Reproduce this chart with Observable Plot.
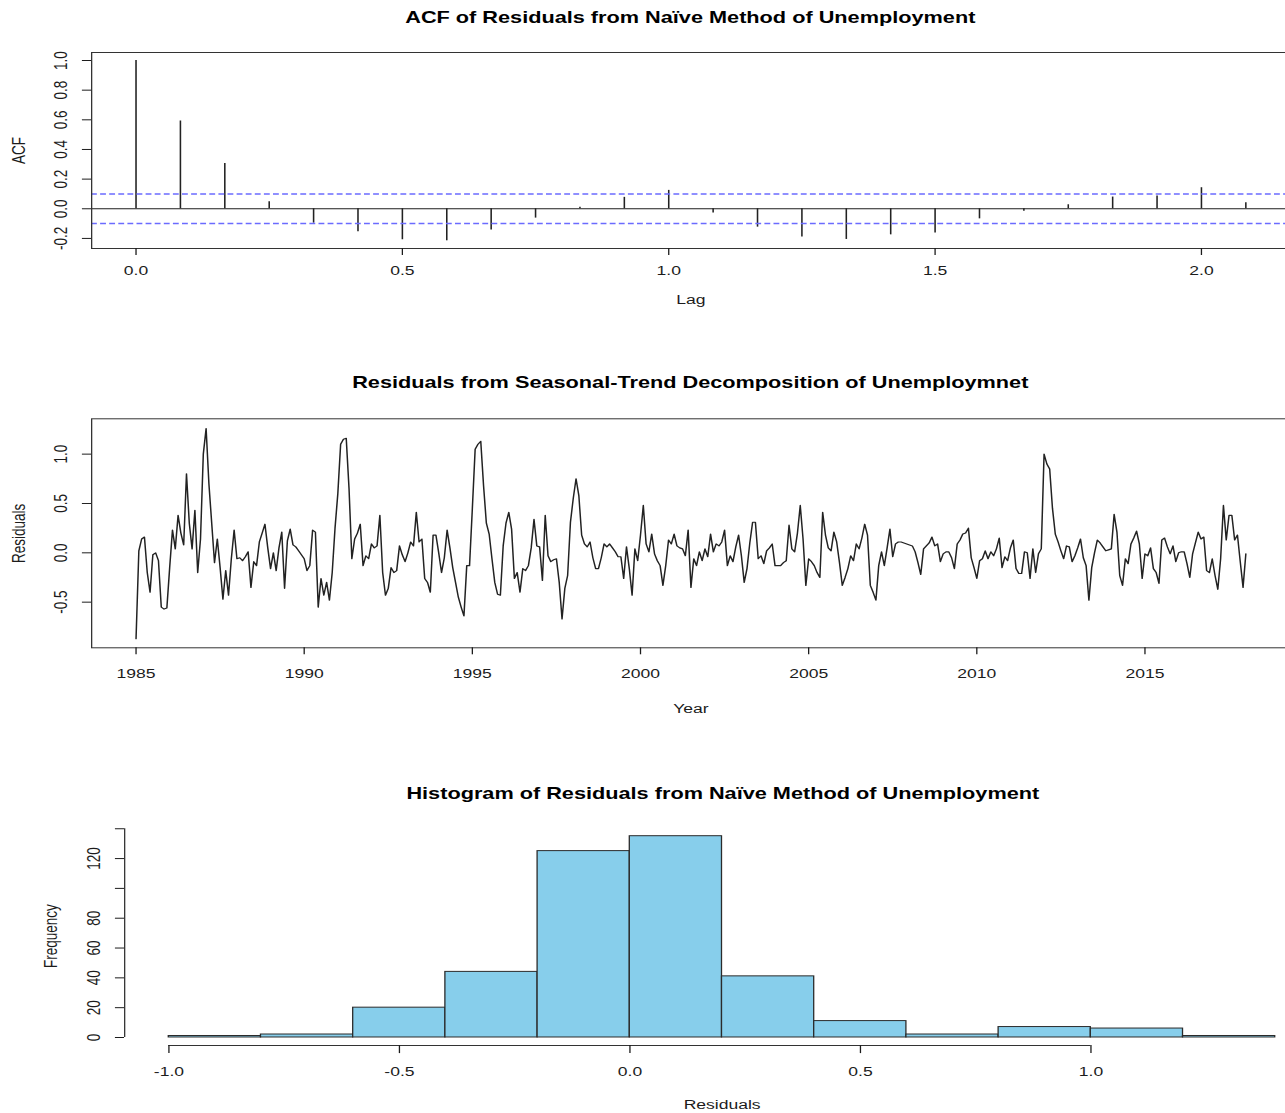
<!DOCTYPE html>
<html>
<head>
<meta charset="utf-8">
<script src="https://cdn.jsdelivr.net/npm/d3@7"></script>
<script src="https://cdn.jsdelivr.net/npm/@observablehq/plot@0.6"></script>
<style>
  html, body { margin: 0; padding: 0; background: #fff; overflow: hidden; }
  #page { position: relative; width: 1285px; height: 1113px; overflow: hidden; background: #fff; }
  /* the figure is laid out on a narrower canvas and widened to fill the page */
  #canvas { position: absolute; left: 0; top: 0; width: 989px; height: 1113px; transform: scaleX(1.3); transform-origin: 0 0; }
  .title { position: absolute; font: bold 16.7px "Liberation Sans", Arial, sans-serif; line-height: 16.7px; color: #000; white-space: nowrap; transform: translateX(-50%); }
  .panel { position: absolute; left: 0; width: 1100px; }
</style>
</head>
<body>
<div id="page"><div id="canvas">
  <div class="title" style="left:531px;top:10px">ACF of Residuals from Naïve Method of Unemployment</div>
  <div class="panel" id="acf" style="top:30px"></div>
  <div class="title" style="left:531px;top:375px">Residuals from Seasonal-Trend Decomposition of Unemploymnet</div>
  <div class="panel" id="stl" style="top:400px"></div>
  <div class="title" style="left:556px;top:786px">Histogram of Residuals from Naïve Method of Unemployment</div>
  <div class="panel" id="hist" style="top:808px"></div>
</div></div>
<script>
// Autocorrelations of the residuals, lags 0..25 months (frequency 12)
const acfValues = [1.0, 0.592, 0.306, 0.047, -0.097, -0.155, -0.209, -0.216, -0.144, -0.063,
  0.011, 0.077, 0.124, -0.029, -0.124, -0.191, -0.207, -0.176, -0.164, -0.068,
  -0.016, 0.027, 0.079, 0.086, 0.142, 0.041];
const acfFrequency = 12;
const acfBound = 0.099;
const acfXTicks = [0, 0.5, 1, 1.5, 2];
const acfYTicks = [-0.2, 0, 0.2, 0.4, 0.6, 0.8, 1.0];

// Monthly remainder of the seasonal-trend decomposition, January 1985 onwards
const residStartYear = 1985;
const residValues = [
  -0.87, 0.02, 0.14, 0.16, -0.2, -0.40, -0.02, 0.0, -0.08, -0.55, -0.57, -0.56,
  -0.15, 0.23, 0.04, 0.38, 0.2, 0.08, 0.8, 0.3, 0.04, 0.43, -0.2, 0.14,
  1.0, 1.26, 0.7, 0.3, -0.1, 0.14, -0.15, -0.47, -0.18, -0.43, -0.06, 0.23,
  -0.06, -0.05, -0.08, -0.04, 0.01, -0.35, -0.09, -0.13, 0.11, 0.2, 0.29, 0.05,
  -0.16, 0.0, -0.18, 0.05, 0.21, -0.36, 0.12, 0.24, 0.08, 0.06, 0.02, -0.02,
  -0.06, -0.18, -0.13, 0.23, 0.21, -0.55, -0.26, -0.43, -0.3, -0.48, -0.2, 0.25,
  0.6, 1.1, 1.15, 1.16, 0.65, -0.06, 0.14, 0.2, 0.29, -0.13, -0.03, -0.06,
  0.09, 0.05, 0.07, 0.38, -0.2, -0.43, -0.36, -0.15, -0.2, -0.18, 0.07, -0.02,
  -0.09, 0.0, 0.11, 0.07, 0.41, 0.11, 0.14, -0.26, -0.3, -0.4, 0.18, 0.18,
  0.0, -0.2, -0.05, 0.23, 0.05, -0.15, -0.3, -0.45, -0.55, -0.64, -0.13, -0.13,
  0.45, 1.05, 1.1, 1.13, 0.68, 0.3, 0.19, -0.06, -0.3, -0.42, -0.43, 0.07,
  0.3, 0.41, 0.24, -0.26, -0.2, -0.4, -0.16, -0.18, -0.13, 0.05, 0.34, 0.07,
  0.06, -0.28, 0.38, -0.03, -0.09, -0.07, -0.06, -0.3, -0.67, -0.36, -0.23, 0.31,
  0.55, 0.75, 0.58, 0.18, 0.09, 0.06, 0.11, -0.05, -0.16, -0.16, -0.05, 0.09,
  0.06, 0.09, 0.05, 0.01, -0.04, -0.04, -0.26, 0.06, -0.16, -0.43, 0.04, -0.08,
  0.18, 0.48, 0.09, 0.01, 0.19, -0.01, -0.08, -0.13, -0.33, -0.13, 0.13, 0.09,
  0.19, 0.07, 0.05, 0.04, -0.03, 0.23, -0.35, -0.06, -0.13, 0.01, -0.08, 0.04,
  -0.04, 0.19, 0.01, 0.09, 0.07, 0.11, 0.23, -0.13, -0.03, -0.09, 0.06, 0.18,
  -0.03, -0.3, -0.16, 0.1, 0.31, 0.31, -0.06, -0.03, -0.11, 0.02, 0.05, 0.09,
  -0.13, -0.13, -0.13, -0.1, -0.08, 0.28, 0.04, 0.01, 0.2, 0.48, 0.14, -0.33,
  -0.06, -0.09, -0.13, -0.2, -0.25, 0.41, 0.18, 0.05, 0.02, 0.21, 0.11, -0.1,
  -0.33, -0.25, -0.16, -0.03, -0.08, 0.09, 0.04, 0.15, 0.29, 0.18, -0.33, -0.4,
  -0.48, -0.13, 0.01, -0.13, 0.05, 0.24, -0.04, 0.09, 0.11, 0.11, 0.1, 0.09,
  0.08, 0.07, 0.01, -0.1, -0.22, 0.04, 0.07, 0.1, 0.16, 0.07, 0.09, -0.09,
  -0.01, 0.01, 0.01, -0.05, -0.16, 0.09, 0.13, 0.19, 0.2, 0.25, -0.05, -0.15,
  -0.26, -0.08, -0.06, 0.02, -0.06, 0.01, -0.03, 0.04, 0.15, -0.15, -0.04, -0.08,
  0.05, 0.13, -0.16, -0.21, -0.21, 0.01, 0.0, -0.26, 0.04, -0.2, -0.01, 0.04,
  1.0, 0.9, 0.85, 0.45, 0.19, 0.11, 0.02, -0.06, 0.07, 0.06, -0.09, -0.03,
  0.05, 0.14, -0.05, -0.13, -0.48, -0.15, 0.0, 0.13, 0.1, 0.06, 0.02, 0.03,
  0.04, 0.39, 0.21, -0.23, -0.33, -0.06, -0.11, 0.09, 0.15, 0.22, 0.09, -0.26,
  -0.01, -0.03, 0.05, -0.16, -0.2, -0.31, 0.13, 0.15, 0.06, -0.01, 0.07, -0.09,
  0.0, 0.01, 0.01, -0.11, -0.25, -0.01, 0.1, 0.21, 0.14, 0.16, -0.18, -0.2,
  -0.06, -0.23, -0.37, -0.06, 0.48, 0.13, 0.38, 0.38, 0.13, 0.18, -0.09, -0.35,
  -0.01
];
const residXTicks = [1985, 1990, 1995, 2000, 2005, 2010, 2015];
const residYTicks = [-0.5, 0, 0.5, 1.0];

// Histogram of the residuals: bin edges and counts
const histBreaks = [-1.0, -0.8, -0.6, -0.4, -0.2, 0, 0.2, 0.4, 0.6, 0.8, 1.0, 1.2, 1.4];
const histCounts = [1, 2, 20, 44, 125, 135, 41, 11, 2, 7, 6, 1];
const histXTicks = [-1, -0.5, 0, 0.5, 1];
const histYTicks = [0, 20, 40, 60, 80, 100, 120, 140];
const histYLabelled = [0, 20, 40, 60, 80, 120];

const font = "'Liberation Sans', Arial, Helvetica, sans-serif";
const ink = "#1c1c1c";
const boundBlue = "#6b6bff";
const one = d => d.toFixed(1);
const baseStyle = {fontFamily: font, fontSize: "13.5px", color: ink, background: "transparent", overflow: "visible", maxWidth: "none"};

// --- ACF spikes with the upper and lower significance bounds
const acfData = acfValues.map((v, k) => ({lag: k / acfFrequency, acf: v}));
const acfPlot = Plot.plot({
  width: 1000, height: 290,
  marginTop: 22, marginBottom: 72, marginLeft: 70, marginRight: 8,
  style: baseStyle,
  x: {domain: [-0.0833, 2.1667]},
  y: {domain: [-0.268, 1.054]},
  marks: [
    Plot.ruleY([0], {stroke: ink, strokeWidth: 1}),
    Plot.ruleX(acfData, {x: "lag", y1: 0, y2: "acf", stroke: "#222", strokeWidth: 1.2}),
    Plot.ruleY([acfBound, -acfBound], {stroke: boundBlue, strokeWidth: 1.5, strokeDasharray: "4.5,2.5"}),
    Plot.frame({stroke: "#333", strokeWidth: 1}),
    Plot.axisX({ticks: acfXTicks, tickSize: 7, tickPadding: 10.3, tickFormat: one, label: null}),
    Plot.axisY({ticks: acfYTicks, tickSize: 7, tickPadding: 12.2, tickRotate: -90, tickFormat: one, label: null}),
    Plot.text(["Lag"], {text: d => d, frameAnchor: "bottom", dy: 51, lineAnchor: "middle", textAnchor: "middle"}),
    Plot.text(["ACF"], {text: d => d, frameAnchor: "left", dx: -55.7, rotate: -90, lineAnchor: "middle", textAnchor: "middle"})
  ]
});
document.getElementById("acf").append(acfPlot);

// --- remainder series over time
const residData = residValues.map((v, i) => ({year: residStartYear + i / 12, value: v}));
const stlPlot = Plot.plot({
  width: 1000, height: 330,
  marginTop: 18.3, marginBottom: 82.7, marginLeft: 70, marginRight: 8,
  style: baseStyle,
  x: {domain: [1983.68, 2019.32]},
  y: {domain: [-0.9625, 1.358]},
  marks: [
    Plot.line(residData, {x: "year", y: "value", stroke: "#222", strokeWidth: 1.15, strokeLinejoin: "round"}),
    Plot.frame({stroke: "#333", strokeWidth: 1}),
    Plot.axisX({ticks: residXTicks, tickSize: 7, tickPadding: 13.7, tickFormat: d => String(d), label: null}),
    Plot.axisY({ticks: residYTicks, tickSize: 7, tickPadding: 12.2, tickRotate: -90, tickFormat: one, label: null}),
    Plot.text(["Year"], {text: d => d, frameAnchor: "bottom", dy: 60.7, lineAnchor: "middle", textAnchor: "middle"}),
    Plot.text(["Residuals"], {text: d => d, frameAnchor: "left", dx: -55.7, rotate: -90, lineAnchor: "middle", textAnchor: "middle"})
  ]
});
document.getElementById("stl").append(stlPlot);

// --- histogram with R-style detached axes
const histData = histCounts.map((c, j) => ({x0: histBreaks[j], x1: histBreaks[j + 1], count: c}));
const histXDomain = [-1.096, 1.496];
const histYDomain = [-5.44, 141.44];
const histPlot = Plot.plot({
  width: 1030, height: 305,
  marginTop: 18.1, marginBottom: 67.9, marginLeft: 95.4, marginRight: 15.4,
  style: baseStyle,
  x: {domain: histXDomain},
  y: {domain: histYDomain},
  marks: [
    Plot.rectY(histData, {x1: "x0", x2: "x1", y1: 0, y2: "count", fill: "#87ceeb", stroke: "#2b2b2b", strokeWidth: 1}),
    Plot.ruleY([histYDomain[0]], {x1: histXTicks[0], x2: histXTicks[histXTicks.length - 1], stroke: "#333", strokeWidth: 1}),
    Plot.ruleX([histXDomain[0]], {y1: histYTicks[0], y2: histYTicks[histYTicks.length - 1], stroke: "#333", strokeWidth: 1}),
    Plot.axisX({ticks: histXTicks, tickSize: 8, tickPadding: 12.9, tickFormat: one, label: null}),
    Plot.axisY({ticks: histYTicks, tickSize: 7, tickPadding: 12.1, tickRotate: -90,
      tickFormat: d => histYLabelled.includes(d) ? String(d) : "", label: null}),
    Plot.text(["Residuals"], {text: d => d, frameAnchor: "bottom", dy: 58.9, lineAnchor: "middle", textAnchor: "middle"}),
    Plot.text(["Frequency"], {text: d => d, frameAnchor: "left", dx: -56.5, rotate: -90, lineAnchor: "middle", textAnchor: "middle"})
  ]
});
document.getElementById("hist").append(histPlot);
</script>
</body>
</html>
